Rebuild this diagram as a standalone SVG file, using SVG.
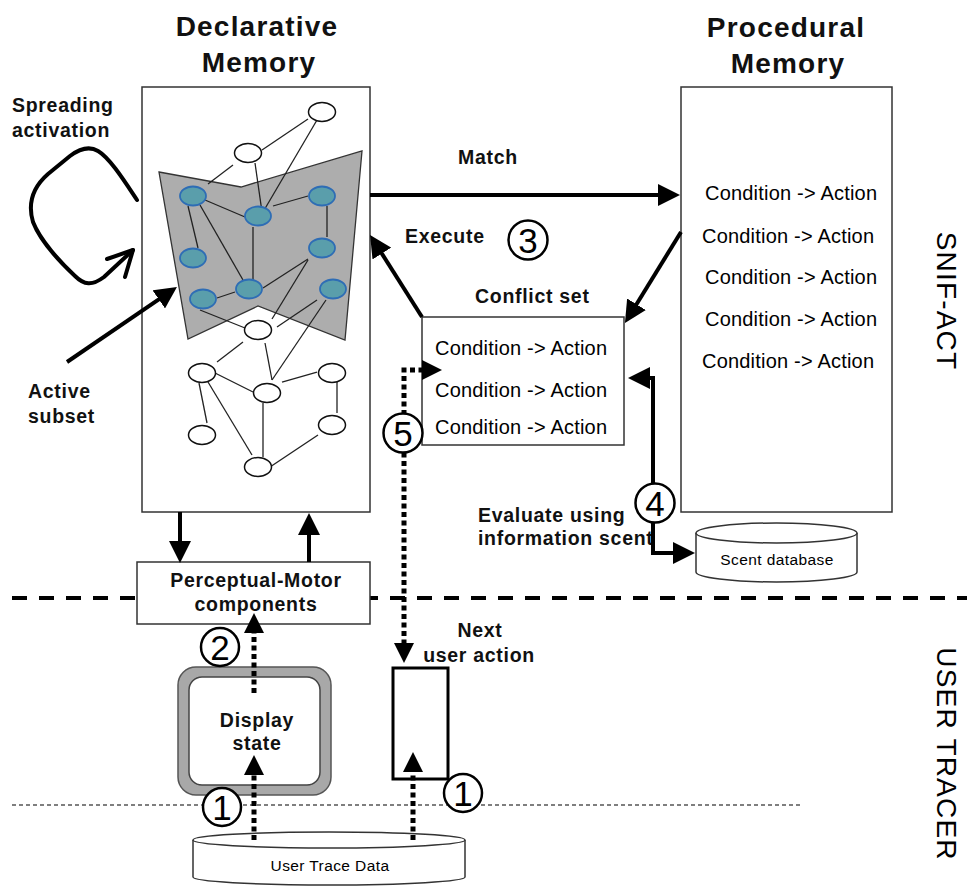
<svg xmlns="http://www.w3.org/2000/svg" width="967" height="887" viewBox="0 0 967 887">
<defs>
<style>
.b{font-family:"Liberation Sans",Arial,sans-serif;font-weight:bold;font-size:19.5px;letter-spacing:0.7px;fill:#111}
.title{font-family:"Liberation Sans",Arial,sans-serif;font-weight:bold;font-size:28px;letter-spacing:1.2px;fill:#111;text-anchor:middle}
.ca{font-family:"Liberation Sans",Arial,sans-serif;font-size:20px;letter-spacing:0.2px;fill:#000}
.small{font-family:"Liberation Sans",Arial,sans-serif;font-size:15.5px;letter-spacing:0.4px;fill:#000;text-anchor:middle}
.side{font-family:"Liberation Sans",Arial,sans-serif;font-size:28px;letter-spacing:1.2px;fill:#000;text-anchor:middle}
.num{font-family:"Liberation Sans",Arial,sans-serif;font-size:35px;fill:#000;text-anchor:middle}
.box{fill:#fff;stroke:#333;stroke-width:1.5}
.edge{stroke:#222;stroke-width:1.3;fill:none}
.wn{fill:#fff;stroke:#111;stroke-width:1.5}
.bn{fill:#5a9eab;stroke:#2e6db5;stroke-width:1.8}
.circ{fill:#fff;stroke:#000;stroke-width:2.5}
.solid{stroke:#000;stroke-width:4;fill:none}
.dot{stroke:#000;stroke-width:5;stroke-dasharray:5 3.5;fill:none}
</style>
<marker id="ah" viewBox="0 0 22 22" refX="12" refY="11" markerWidth="22" markerHeight="22" markerUnits="userSpaceOnUse" orient="auto-start-reverse">
<path d="M0,0 L22,11 L0,22 z" fill="#000"/>
</marker>
<marker id="ahs" viewBox="0 0 20 20" refX="10" refY="10" markerWidth="20" markerHeight="20" markerUnits="userSpaceOnUse" orient="auto-start-reverse">
<path d="M0,0 L20,10 L0,20 z" fill="#000"/>
</marker>
</defs>
<rect width="967" height="887" fill="#fff"/>

<!-- separator lines -->
<g id="separators">
<line x1="12" y1="598" x2="967" y2="598" stroke="#000" stroke-width="4" stroke-dasharray="15 12"/>
<line x1="12" y1="805" x2="800" y2="805" stroke="#555" stroke-width="1.5" stroke-dasharray="4 3"/>
</g>

<!-- titles -->
<g id="title-declarative">
<text class="title" x="257" y="36">Declarative</text>
<text class="title" x="259" y="72">Memory</text>
</g>
<g id="title-procedural">
<text class="title" x="786" y="37">Procedural</text>
<text class="title" x="788" y="73">Memory</text>
</g>

<!-- Declarative memory box with network -->
<g id="declarative-memory">
<rect class="box" x="142" y="87" width="228" height="425"/>
<polygon points="159,172 241,187 362,151 345,340 258,306 188,339" fill="#adadad" stroke="#333" stroke-width="1.3"/>
<g class="edge">
<line x1="308" y1="119" x2="262" y2="150"/>
<line x1="317" y1="120" x2="263" y2="212"/>
<line x1="233" y1="165" x2="208" y2="184"/>
<line x1="255" y1="163" x2="262" y2="212"/>
<line x1="205" y1="200" x2="245" y2="217"/>
<line x1="273" y1="206" x2="308" y2="196"/>
<line x1="327" y1="206" x2="327" y2="237"/>
<line x1="188" y1="206" x2="198" y2="248"/>
<line x1="200" y1="205" x2="243" y2="280"/>
<line x1="253" y1="227" x2="253" y2="280"/>
<line x1="217" y1="298" x2="235" y2="292"/>
<line x1="263" y1="288" x2="308" y2="259"/>
<line x1="308" y1="260" x2="272" y2="319"/>
<line x1="317" y1="300" x2="277" y2="327"/>
<line x1="200" y1="310" x2="245" y2="328"/>
<line x1="243" y1="342" x2="217" y2="362"/>
<line x1="265" y1="343" x2="272" y2="380"/>
<line x1="215" y1="373" x2="253" y2="392"/>
<line x1="282" y1="382" x2="317" y2="372"/>
<line x1="337" y1="382" x2="337" y2="413"/>
<line x1="199" y1="383" x2="207" y2="423"/>
<line x1="208" y1="382" x2="252" y2="455"/>
<line x1="263" y1="403" x2="263" y2="457"/>
<line x1="270" y1="467" x2="318" y2="435"/>
<line x1="326" y1="300" x2="272" y2="380"/>
</g>
<g id="dm-nodes">
<ellipse class="wn" cx="322" cy="112" rx="13.5" ry="9.5"/>
<ellipse class="wn" cx="248" cy="153" rx="13.5" ry="9.5"/>
<ellipse class="bn" cx="193" cy="196" rx="13" ry="9.5"/>
<ellipse class="bn" cx="258" cy="216" rx="13" ry="9.5"/>
<ellipse class="bn" cx="322" cy="196" rx="13" ry="9.5"/>
<ellipse class="bn" cx="193" cy="258" rx="13" ry="9.5"/>
<ellipse class="bn" cx="322" cy="248" rx="13" ry="9.5"/>
<ellipse class="bn" cx="203" cy="299" rx="13" ry="9.5"/>
<ellipse class="bn" cx="249" cy="289" rx="13" ry="9.5"/>
<ellipse class="bn" cx="333" cy="289" rx="13" ry="9.5"/>
<ellipse class="wn" cx="258" cy="330" rx="13.5" ry="9.5"/>
<ellipse class="wn" cx="202" cy="373" rx="13.5" ry="9.5"/>
<ellipse class="wn" cx="267" cy="393" rx="13.5" ry="9.5"/>
<ellipse class="wn" cx="332" cy="373" rx="13.5" ry="9.5"/>
<ellipse class="wn" cx="202" cy="435" rx="13.5" ry="9.5"/>
<ellipse class="wn" cx="332" cy="425" rx="13.5" ry="9.5"/>
<ellipse class="wn" cx="258" cy="467" rx="13.5" ry="9.5"/>
</g>
</g>

<!-- Procedural memory -->
<g id="procedural-memory">
<rect class="box" x="681" y="87" width="211" height="425"/>
<text class="ca" x="705" y="200">Condition -&gt; Action</text>
<text class="ca" x="702" y="243">Condition -&gt; Action</text>
<text class="ca" x="705" y="284">Condition -&gt; Action</text>
<text class="ca" x="705" y="326">Condition -&gt; Action</text>
<text class="ca" x="702" y="368">Condition -&gt; Action</text>
</g>

<!-- Conflict set -->
<g id="conflict-set">
<text class="b" x="475" y="303">Conflict set</text>
<rect class="box" x="422" y="317" width="202" height="128"/>
<text class="ca" x="435" y="355">Condition -&gt; Action</text>
<text class="ca" x="435" y="397">Condition -&gt; Action</text>
<text class="ca" x="435" y="434">Condition -&gt; Action</text>
</g>

<!-- Scent database -->
<g id="scent-database">
<path d="M696,533 L696,572 A80.5,10 0 0 0 857,572 L857,533" fill="#fff" stroke="#333" stroke-width="1.5"/>
<ellipse cx="776.5" cy="533" rx="80.5" ry="10" fill="#fff" stroke="#333" stroke-width="1.5"/>
<text class="small" x="777" y="565">Scent database</text>
</g>

<!-- Perceptual-Motor -->
<g id="perceptual-motor">
<rect class="box" x="137" y="562" width="233" height="62"/>
<text class="b" x="256" y="587" text-anchor="middle">Perceptual-Motor</text>
<text class="b" x="256" y="611" text-anchor="middle">components</text>
</g>

<!-- Display state -->
<g id="display-state">
<rect x="178" y="667" width="153" height="128" rx="18" fill="#a8a8a8" stroke="#555" stroke-width="1.5"/>
<rect x="189" y="677" width="131" height="108" rx="13" fill="#fff" stroke="#444" stroke-width="1.5"/>
<text class="b" x="257" y="727" text-anchor="middle">Display</text>
<text class="b" x="257" y="750" text-anchor="middle">state</text>
</g>

<!-- Next user action -->
<g id="next-user-action">
<text class="b" x="480" y="637" text-anchor="middle">Next</text>
<text class="b" x="479" y="662" text-anchor="middle">user action</text>
<rect x="393" y="668" width="55" height="111" fill="#fff" stroke="#000" stroke-width="3"/>
</g>

<!-- User trace data -->
<g id="user-trace-data">
<path d="M193,840 L193,877 A136,8 0 0 0 465,877 L465,840" fill="#fff" stroke="#333" stroke-width="1.5"/>
<ellipse cx="329" cy="840" rx="136" ry="8" fill="#fff" stroke="#333" stroke-width="1.5"/>
<text class="small" x="330" y="871">User Trace Data</text>
</g>

<!-- Labels -->
<g id="labels">
<text class="b" x="12" y="112">Spreading</text>
<text class="b" x="12" y="137">activation</text>
<text class="b" x="28" y="398">Active</text>
<text class="b" x="28" y="423">subset</text>
<text class="b" x="458" y="164">Match</text>
<text class="b" x="405" y="243">Execute</text>
<text class="b" x="478" y="522">Evaluate using</text>
<text class="b" x="478" y="545">information scent</text>
<text class="side" transform="translate(947,301) rotate(90)" x="0" y="10">SNIF-ACT</text>
<text class="side" transform="translate(947,754) rotate(90)" x="0" y="10">USER TRACER</text>
</g>

<!-- Connectors -->
<g id="connectors">
<path class="solid" d="M137,200 C125,182 110,158 98,151 C88,145 78,150 70,156 L48,174 C32,188 28,205 33,222 C40,240 60,262 75,276 C84,285 92,286 104,277 L133,250" stroke-linejoin="round" stroke-linecap="round"/>
<path class="solid" d="M107,259 L133,250 L125,277" stroke-linejoin="round" stroke-linecap="round"/>
<line class="solid" x1="67" y1="362" x2="168.7" y2="292.6" stroke-width="4.5" marker-end="url(#ah)"/>
<line class="solid" x1="370" y1="195" x2="670" y2="195" marker-end="url(#ah)"/>
<line class="solid" x1="422" y1="317" x2="375.4" y2="243.4" marker-end="url(#ah)"/>
<line class="solid" x1="681" y1="232" x2="630.2" y2="314.5" marker-end="url(#ah)"/>
<path class="solid" d="M638,378 L653,378 L653,553 L685,553" marker-start="url(#ah)" marker-end="url(#ah)"/>
<line class="solid" x1="180" y1="512" x2="180" y2="553" marker-end="url(#ah)"/>
<line class="solid" x1="309" y1="562" x2="309" y2="523" marker-end="url(#ah)"/>
<line class="dot" x1="254" y1="693" x2="254" y2="623" marker-end="url(#ahs)"/>
<line class="dot" x1="254" y1="840" x2="254" y2="765" marker-end="url(#ahs)"/>
<line class="dot" x1="413" y1="840" x2="413" y2="762" marker-end="url(#ahs)"/>
<path class="dot" d="M432,370 L404,370 L404,653" marker-start="url(#ahs)" marker-end="url(#ahs)"/>
</g>

<!-- Step circles -->
<g id="step-3"><circle class="circ" cx="528" cy="240" r="19.5"/><text class="num" x="528" y="252.5">3</text></g>
<g id="step-5"><circle class="circ" cx="403" cy="433" r="19.5"/><text class="num" x="403" y="445.5">5</text></g>
<g id="step-4"><circle class="circ" cx="655" cy="503" r="19.5"/><text class="num" x="655" y="515.5">4</text></g>
<g id="step-2"><circle class="circ" cx="220" cy="647" r="19"/><text class="num" x="220" y="659.5">2</text></g>
<g id="step-1a"><circle class="circ" cx="222" cy="807" r="19"/><text class="num" x="222" y="819.5">1</text></g>
<g id="step-1b"><circle class="circ" cx="463" cy="793" r="19"/><text class="num" x="463" y="805.5">1</text></g>
</svg>
